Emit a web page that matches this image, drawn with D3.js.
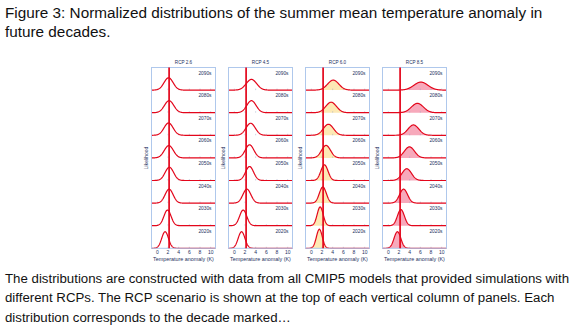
<!DOCTYPE html>
<html>
<head>
<meta charset="utf-8">
<script src="https://cdn.jsdelivr.net/npm/d3@7"></script>
<style>
  body { margin: 0; background: #fff; }
  svg { display: block; }
  .cap { font-family: "Liberation Sans", Arial, sans-serif; fill: #111; }
  .tiny { font-family: "Liberation Sans", Arial, sans-serif; fill: #24305e; font-size: 4.6px; }
</style>
</head>
<body>
<svg id="chart" width="576" height="331"></svg>
<script>
/* global d3 */

const scenarios = ['RCP 2.6', 'RCP 4.5', 'RCP 6.0', 'RCP 8.5']
const decades = ['2020s', '2030s', '2040s', '2050s', '2060s', '2070s', '2080s', '2090s']
const xTicks = [0, 2, 4, 6, 8, 10]
const threshold = 2.3

// peak position (K) of each decade's distribution, 2020s..2090s
const means26 = [1.55, 2.0, 2.3, 2.35, 2.25, 2.2, 2.3, 2.2]
const means45 = [1.45, 1.75, 2.45, 2.95, 2.95, 3.15, 3.3, 3.3]
const means60 = [1.6, 1.75, 2.25, 2.55, 2.85, 3.3, 3.8, 4.2]
const means85 = [1.8, 2.45, 2.95, 3.55, 4.05, 4.8, 5.55, 6.2]

// spread (K) of each distribution, 2020s..2090s
const spread26 = [0.63, 0.67, 0.75, 0.79, 0.85, 0.85, 0.87, 0.85]
const spread45 = [0.63, 0.67, 0.75, 0.75, 0.8, 0.87, 0.87, 0.98]
const spread60 = [0.55, 0.56, 0.65, 0.67, 0.84, 0.95, 1.0, 1.05]
const spread85 = [0.63, 0.65, 0.75, 0.89, 0.95, 1.01, 1.12, 1.31]

const means = [means26, means45, means60, means85]
const spreads = [spread26, spread45, spread60, spread85]
const fills = ['none', 'none', '#fde9b4', '#f7a9bb']

const svg = d3.select('#chart')

const colLeft = [151.5, 228.5, 305.5, 382.5]
const colWidth = 64
const panelTop = 67.5
const rowH = 22.6

function density(m, s) {
  const pts = d3.range(-1, 11.001, 0.05)
  return pts.map(x => [x, Math.exp(-0.5 * ((x - m) / s) ** 2) / (s * Math.sqrt(2 * Math.PI))])
}

// captions
const title = ['Figure 3: Normalized distributions of the summer mean temperature anomaly in', 'future decades.']
svg.selectAll('.title').data(title).enter().append('text')
  .attr('class', 'cap')
  .attr('x', 5).attr('y', (d, i) => 18 + i * 19)
  .style('font-size', '15.3px')
  .text(d => d)

const notes = [
  'The distributions are constructed with data from all CMIP5 models that provided simulations with',
  'different RCPs. The RCP scenario is shown at the top of each vertical column of panels. Each',
  'distribution corresponds to the decade marked…'
]
svg.selectAll('.note').data(notes).enter().append('text')
  .attr('class', 'cap')
  .attr('x', 5).attr('y', (d, i) => 282.5 + i * 19.5)
  .style('font-size', '13.25px')
  .text(d => d)

scenarios.forEach((name, c) => {
  const x = d3.scaleLinear().domain([-1, 11]).range([colLeft[c], colLeft[c] + colWidth])
  const g = svg.append('g')

  g.append('text').attr('class', 'tiny')
    .attr('x', colLeft[c] + colWidth / 2).attr('y', 63.5)
    .attr('text-anchor', 'middle').text(name)

  g.append('text').attr('class', 'tiny')
    .attr('transform', `translate(${colLeft[c] - 4},${panelTop + rowH * 4}) rotate(-90)`)
    .attr('text-anchor', 'middle').style('font-size', '5px').text('Likelihood')

  decades.forEach((dec, i) => {
    const row = decades.length - 1 - i
    const base = panelTop + (row + 1) * rowH
    const y = d3.scaleLinear().domain([0, 0.86]).range([base, base - rowH])
    const pts = density(means[c][i], spreads[c][i])

    if (fills[c] !== 'none') {
      g.append('path')
        .attr('d', d3.area().x(d => x(d[0])).y0(base).y1(d => y(d[1]))(pts))
        .attr('fill', fills[c])
    }

    g.append('g')
      .attr('transform', `translate(0,${base})`)
      .call(d3.axisTop(x).tickValues(xTicks).tickSize(1.5).tickFormat(''))
      .call(a => a.select('.domain').remove())
      .call(a => a.selectAll('line').attr('stroke', '#9aa6c4').attr('stroke-width', 0.5))

    g.append('path')
      .attr('d', d3.line().x(d => x(d[0])).y(d => y(d[1]))(pts))
      .attr('fill', 'none')
      .attr('stroke', '#e3061b')
      .attr('stroke-width', 1.2)

    g.append('text').attr('class', 'tiny')
      .attr('x', colLeft[c] + colWidth - 4).attr('y', base - rowH + 7)
      .attr('text-anchor', 'end').style('font-size', '4.8px').text(dec)
  })

  g.append('rect')
    .attr('x', colLeft[c]).attr('y', panelTop)
    .attr('width', colWidth).attr('height', rowH * decades.length)
    .attr('fill', 'none').attr('stroke', '#afc8ec').attr('stroke-width', 1)

  g.append('line')
    .attr('x1', x(threshold)).attr('x2', x(threshold))
    .attr('y1', panelTop).attr('y2', panelTop + rowH * decades.length)
    .attr('stroke', '#e3061b').attr('stroke-width', 1.7)

  const axis = g.append('g')
    .attr('transform', `translate(0,${panelTop + rowH * decades.length})`)
    .call(d3.axisBottom(x).tickValues(xTicks).tickSize(0).tickPadding(2.5))
  axis.select('.domain').remove()
  axis.selectAll('text').attr('class', 'tiny').style('font-size', '5px').attr('font-family', null)

  g.append('text').attr('class', 'tiny')
    .attr('x', colLeft[c] + colWidth / 2).attr('y', panelTop + rowH * decades.length + 12.5)
    .attr('text-anchor', 'middle').style('font-size', '5.4px').text('Temperature anomaly (K)')
})
</script>
</body>
</html>
